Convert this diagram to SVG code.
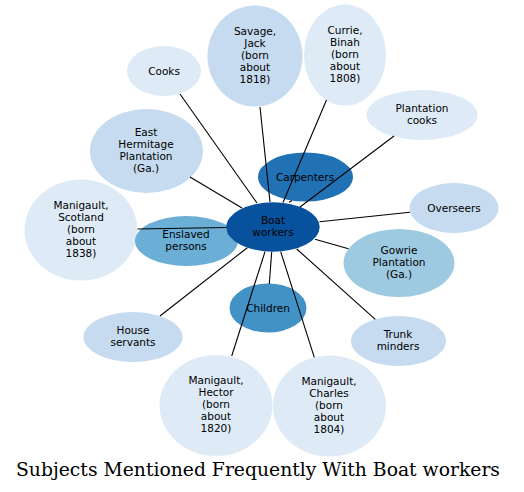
<svg xmlns="http://www.w3.org/2000/svg" width="524" height="492" viewBox="0 0 524 492">
<style>
.lbl{font-family:"DejaVu Sans",sans-serif;font-size:10.5px;fill:#000;text-anchor:middle}
.c1{fill:#08519c}.c2{fill:#2171b5}.c3{fill:#4292c6}.c4{fill:#6baed6}.c5{fill:#9ecae1}.c6{fill:#c6dbef}.c7{fill:#deebf7}
.edges line{stroke:#000;stroke-width:1.1}
.title{font-family:"DejaVu Serif","Liberation Serif",serif;font-size:18px;fill:#000;text-anchor:middle}
</style>
<rect width="524" height="492" fill="#fff"/>
<g id="n-cooks"><ellipse class="c7" cx="164" cy="71" rx="37" ry="25"/><text class="lbl" x="164" y="75">Cooks</text></g>
<g id="n-savage"><ellipse class="c6" cx="255" cy="56" rx="47.5" ry="50.5"/><text class="lbl" x="255" y="35">Savage,<tspan x="255" dy="12">Jack</tspan><tspan x="255" dy="12">(born</tspan><tspan x="255" dy="12">about</tspan><tspan x="255" dy="12">1818)</tspan></text></g>
<g id="n-currie"><ellipse class="c7" cx="345" cy="55" rx="41" ry="50.5"/><text class="lbl" x="345" y="34">Currie,<tspan x="345" dy="12">Binah</tspan><tspan x="345" dy="12">(born</tspan><tspan x="345" dy="12">about</tspan><tspan x="345" dy="12">1808)</tspan></text></g>
<g id="n-plcooks"><ellipse class="c7" cx="422" cy="115" rx="55.5" ry="25"/><text class="lbl" x="422" y="112">Plantation<tspan x="422" dy="12">cooks</tspan></text></g>
<g id="n-easthermitage"><ellipse class="c6" cx="146.5" cy="151" rx="56.5" ry="42"/><text class="lbl" x="146" y="136">East<tspan x="146" dy="12">Hermitage</tspan><tspan x="146" dy="12">Plantation</tspan><tspan x="146" dy="12">(Ga.)</tspan></text></g>
<g id="n-carpenters"><ellipse class="c2" cx="305.5" cy="177" rx="47.5" ry="24.5"/><text class="lbl" x="305" y="180.5">Carpenters</text></g>
<g id="n-scotland"><ellipse class="c7" cx="81" cy="230" rx="56.5" ry="50.5"/><text class="lbl" x="81" y="209">Manigault,<tspan x="81" dy="12">Scotland</tspan><tspan x="81" dy="12">(born</tspan><tspan x="81" dy="12">about</tspan><tspan x="81" dy="12">1838)</tspan></text></g>
<g id="n-enslaved"><ellipse class="c4" cx="186.5" cy="241" rx="51.5" ry="25"/><text class="lbl" x="186" y="238">Enslaved<tspan x="186" dy="12">persons</tspan></text></g>
<g id="n-overseers"><ellipse class="c6" cx="454" cy="208" rx="44.5" ry="25"/><text class="lbl" x="454" y="211.5">Overseers</text></g>
<g id="n-gowrie"><ellipse class="c5" cx="399" cy="263" rx="55.5" ry="34"/><text class="lbl" x="399" y="254">Gowrie<tspan x="399" dy="12">Plantation</tspan><tspan x="399" dy="12">(Ga.)</tspan></text></g>
<g id="n-children"><ellipse class="c3" cx="268" cy="308" rx="38.5" ry="24.5"/><text class="lbl" x="268" y="311.5">Children</text></g>
<g id="n-house"><ellipse class="c6" cx="133" cy="337" rx="49.5" ry="25"/><text class="lbl" x="133" y="334">House<tspan x="133" dy="12">servants</tspan></text></g>
<g id="n-trunk"><ellipse class="c6" cx="398.5" cy="341" rx="47.5" ry="25"/><text class="lbl" x="398" y="338">Trunk<tspan x="398" dy="12">minders</tspan></text></g>
<g id="n-hector"><ellipse class="c7" cx="216" cy="405.5" rx="56.5" ry="50.5"/><text class="lbl" x="216" y="384">Manigault,<tspan x="216" dy="12">Hector</tspan><tspan x="216" dy="12">(born</tspan><tspan x="216" dy="12">about</tspan><tspan x="216" dy="12">1820)</tspan></text></g>
<g id="n-charles"><ellipse class="c7" cx="329.5" cy="406" rx="56.5" ry="50.5"/><text class="lbl" x="329" y="385">Manigault,<tspan x="329" dy="12">Charles</tspan><tspan x="329" dy="12">(born</tspan><tspan x="329" dy="12">about</tspan><tspan x="329" dy="12">1804)</tspan></text></g>
<g id="edges" class="edges">
<line x1="180" y1="94" x2="257" y2="203"/>
<line x1="190" y1="177" x2="242" y2="208"/>
<line x1="137.5" y1="229" x2="227" y2="227.5"/>
<line x1="228" y1="233.5" x2="228.6" y2="234.3"/>
<line x1="260" y1="107" x2="270" y2="202"/>
<line x1="326.5" y1="100" x2="283" y2="202.5"/>
<line x1="289" y1="202.3" x2="292" y2="200.5"/>
<line x1="394" y1="136" x2="300" y2="207"/>
<line x1="410" y1="212.3" x2="319.5" y2="221.7"/>
<line x1="315" y1="239.3" x2="348.5" y2="248.7"/>
<line x1="375.3" y1="319.3" x2="296.7" y2="249"/>
<line x1="314.3" y1="357.3" x2="280.7" y2="251.7"/>
<line x1="271.7" y1="251.7" x2="269.3" y2="284"/>
<line x1="231.7" y1="356" x2="265" y2="251.7"/>
<line x1="160" y1="316" x2="247.3" y2="247.7"/>
</g>
<g id="n-boat"><ellipse class="c1" cx="273" cy="227" rx="46.7" ry="24.7"/><text class="lbl" x="273" y="224">Boat<tspan x="273" dy="12">workers</tspan></text></g>
<text class="title" x="258" y="476" textLength="484" lengthAdjust="spacingAndGlyphs">Subjects Mentioned Frequently With Boat workers</text>
</svg>
